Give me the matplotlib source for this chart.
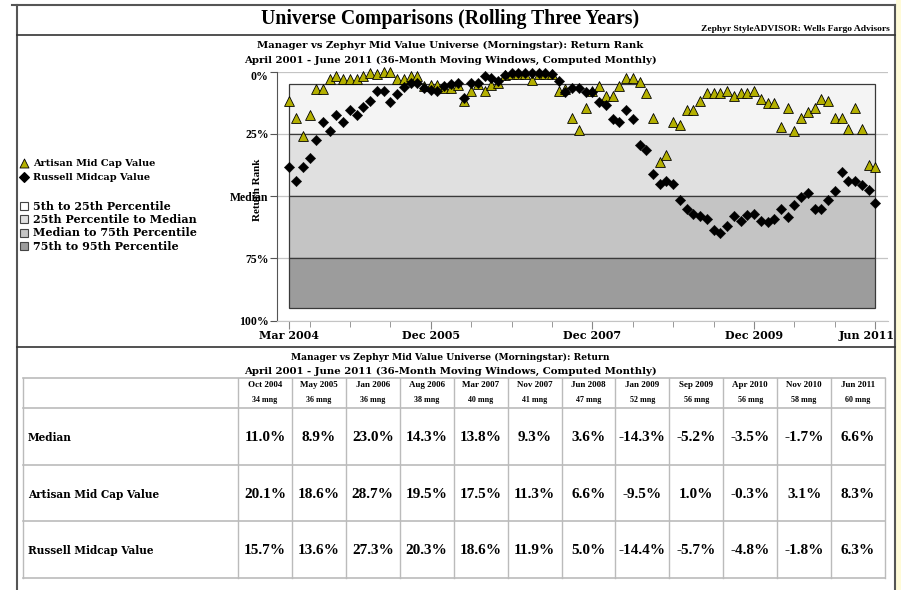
import numpy as np
import matplotlib
matplotlib.use('Agg')
import matplotlib.pyplot as plt
import matplotlib.transforms as mtransforms
from matplotlib.patches import Rectangle

plt.rcParams['font.family'] = ['Liberation Serif', 'DejaVu Serif']
plt.rcParams['font.weight'] = 'bold'
WIDE = ['DejaVu Serif']  # 字間の広い小さい文字用

W, H = 901, 590

# 月次ローリング窓 (Mar 2004 - Jun 2011)
months = np.arange(88)
artisan_rank = [11.7, 18.5, 26.0, 17.4, 7.0, 7.0, 3.2, 2.0, 3.0, 3.0, 3.0, 1.8,
                0.6, 1.2, 0.4, 0.4, 3.0, 3.0, 1.8, 1.8, 6.0, 5.4, 5.4, 6.8,
                6.5, 5.4, 12.0, 8.0, 5.0, 8.0, 5.3, 4.6, 1.5, 1.0, 1.0, 1.0,
                3.3, 1.0, 1.0, 1.0, 7.8, 7.0, 18.5, 23.3, 14.7, 8.0, 5.9, 9.8,
                9.8, 6.0, 2.8, 2.8, 4.1, 8.8, 18.5, 36.4, 33.7, 20.3, 21.3, 15.6,
                15.6, 11.7, 8.8, 8.8, 8.8, 7.7, 9.9, 8.8, 8.8, 7.7, 10.9, 12.5,
                12.5, 22.4, 14.7, 24.0, 18.5, 16.3, 14.7, 10.9, 11.8, 18.5, 18.5, 23.1,
                14.7, 23.1, 37.5, 38.5]
russell_rank = [38.4, 43.8, 38.4, 34.6, 27.6, 20.2, 23.9, 17.3, 20.2, 15.3, 17.3, 14.2,
                11.8, 7.7, 7.7, 12.4, 9.0, 6.1, 4.8, 4.8, 6.8, 7.5, 7.8, 6.0,
                5.2, 4.7, 10.6, 4.7, 4.7, 1.8, 2.6, 3.8, 1.6, 0.8, 0.8, 0.8,
                0.8, 0.8, 0.8, 1.2, 4.0, 8.4, 6.6, 6.6, 8.4, 8.4, 12.2, 13.4,
                19.0, 20.1, 15.3, 19.2, 29.3, 31.4, 41.1, 45.0, 43.9, 45.0, 51.4, 55.3,
                57.3, 58.0, 59.3, 63.8, 64.7, 61.8, 58.0, 60.0, 57.7, 57.0, 60.0, 60.4,
                59.0, 55.3, 58.4, 53.4, 50.3, 48.6, 55.3, 55.3, 51.7, 47.9, 40.2, 44.0,
                44.0, 45.6, 47.7, 52.6]

band_edges = [5, 25, 50, 75, 95]
band_colors = ['#f4f4f4', '#e0e0e0', '#c4c4c4', '#9c9c9c']
legend_box_colors = ['#ffffff', '#e0e0e0', '#c4c4c4', '#9c9c9c']
band_labels = ['5th to 25th Percentile', '25th Percentile to Median',
               'Median to 75th Percentile', '75th to 95th Percentile']

ytick_vals = [0, 25, 50, 75, 100]
ytick_labels = ['0%', '25%', 'Median', '75%', '100%']
xtick_pos = [0, 21, 45, 69, 87]
xtick_labels = ['Mar 2004', 'Dec 2005', 'Dec 2007', 'Dec 2009', 'Jun 2011']
xminor_pos = list(range(3, 88, 6))

# 表データ
col_dates = ['Oct 2004', 'May 2005', 'Jan 2006', 'Aug 2006', 'Mar 2007', 'Nov 2007',
             'Jun 2008', 'Jan 2009', 'Sep 2009', 'Apr 2010', 'Nov 2010', 'Jun 2011']
col_mng = [34, 36, 36, 38, 40, 41, 47, 52, 56, 56, 58, 60]
row_names = ['Median', 'Artisan Mid Cap Value', 'Russell Midcap Value']
median_ret = [11.0, 8.9, 23.0, 14.3, 13.8, 9.3, 3.6, -14.3, -5.2, -3.5, -1.7, 6.6]
artisan_ret = [20.1, 18.6, 28.7, 19.5, 17.5, 11.3, 6.6, -9.5, 1.0, -0.3, 3.1, 8.3]
russell_ret = [15.7, 13.6, 27.3, 20.3, 18.6, 11.9, 5.0, -14.4, -5.7, -4.8, -1.8, 6.3]

tri_color = '#b4b000'
frame_color = '#555555'
grid_color = '#c4c4c4'


def px_box(l, t, r, b):
    return [l / W, 1 - b / H, (r - l) / W, (b - t) / H]


fig = plt.figure(figsize=(W / 100, H / 100), dpi=100)

# 背景(ピクセル座標)
bg = fig.add_axes([0, 0, 1, 1])
bg.set_xlim(0, W)
bg.set_ylim(H, 0)
bg.axis('off')

bg.add_patch(Rectangle((896, 0), 5, H, facecolor='#fffbd8', edgecolor='none'))
# 外枠
bg.plot([12, 895], [5, 5], color=frame_color, lw=1.5)
bg.plot([17, 17], [5, H], color=frame_color, lw=1.5)
bg.plot([895, 895], [5, H], color=frame_color, lw=1.5)
bg.plot([17, 895], [35, 35], color='#333333', lw=1.2)
bg.plot([17, 895], [347, 347], color='#333333', lw=1.2)

bg.text(450, 19, 'Universe Comparisons (Rolling Three Years)', ha='center', va='center',
        fontsize=14.2)
bg.text(890, 29, 'Zephyr StyleADVISOR: Wells Fargo Advisors', ha='right', va='center',
        fontsize=6.8)
bg.text(450, 45, 'Manager vs Zephyr Mid Value Universe (Morningstar): Return Rank',
        ha='center', va='center', fontsize=7.3, family=WIDE)
bg.text(450, 60, 'April 2001 - June 2011 (36-Month Moving Windows, Computed Monthly)',
        ha='center', va='center', fontsize=7.3, family=WIDE)
bg.text(257, 190, 'Return Rank', rotation=90, ha='center', va='center', fontsize=8)

# 凡例
bg.scatter([24], [163], marker='^', s=42, c=tri_color, edgecolors='black', linewidths=0.6)
bg.text(33, 163, 'Artisan Mid Cap Value', va='center', fontsize=7.0, family=WIDE)
bg.scatter([24], [177], marker='D', s=24, c='black')
bg.text(33, 177.5, 'Russell Midcap Value', va='center', fontsize=7.0, family=WIDE)
for i, (lab, c) in enumerate(zip(band_labels, legend_box_colors)):
    yy = 206 + i * 13.4
    bg.add_patch(Rectangle((20, yy - 4), 8, 8, facecolor=c, edgecolor='#444444', lw=0.8))
    bg.text(33, yy, lab, va='center', fontsize=8.0, family=WIDE)

# 散布図
ax = fig.add_axes(px_box(277, 71.5, 888, 320.7))
ax.set_facecolor('none')
ax.set_xlim(-1.83, 88.89)
ax.set_ylim(100, 0)
for lo, hi, c in zip(band_edges[:-1], band_edges[1:], band_colors):
    ax.add_patch(Rectangle((months[0], lo), months[-1] - months[0], hi - lo,
                           facecolor=c, edgecolor='#3a3a3a', lw=0.9, zorder=1))
ax.scatter(months, artisan_rank, marker='^', s=50, c=tri_color, edgecolors='black',
           linewidths=0.6, zorder=3, clip_on=False)
ax.scatter(months, russell_rank, marker='D', s=28, c='black', edgecolors='black',
           linewidths=0.3, zorder=4, clip_on=False)

ax.set_yticks(ytick_vals)
ax.set_yticklabels(ytick_labels)
ax.yaxis.grid(True, color=grid_color, lw=0.9)
ax.set_axisbelow(True)
ax.set_xticks(xtick_pos)
ax.set_xticklabels(xtick_labels, family=WIDE)
ax.set_xticks(xminor_pos, minor=True)
ax.tick_params(axis='y', length=5, color=frame_color, labelsize=8.5, pad=1)
ax.tick_params(axis='x', which='major', length=6, color='#888888', labelsize=8, pad=1)
ax.tick_params(axis='x', which='minor', length=4, color='#888888')
ax.get_yticklabels()[0].set_va('top')
last = ax.get_xticklabels()[-1]
last.set_transform(last.get_transform() + mtransforms.ScaledTranslation(-9 / 100, 0, fig.dpi_scale_trans))
for s in ['top', 'right']:
    ax.spines[s].set_visible(False)
ax.spines['left'].set_color(frame_color)
ax.spines['bottom'].set_color(grid_color)

# 表
bg.text(450, 357, 'Manager vs Zephyr Mid Value Universe (Morningstar): Return',
        ha='center', va='center', fontsize=6.6, family=WIDE)
bg.text(450, 371, 'April 2001 - June 2011 (36-Month Moving Windows, Computed Monthly)',
        ha='center', va='center', fontsize=7.3, family=WIDE)

t_left, t_right = 23, 885
c_left = 238
c_w = (t_right - c_left) / len(col_dates)
row_lines = [378, 408, 465, 521, 578]
for yy in row_lines:
    bg.plot([t_left, t_right], [yy, yy], color='#bbbbbb', lw=1.2)
for k in range(len(col_dates) + 1):
    xx = c_left + k * c_w
    bg.plot([xx, xx], [row_lines[0], row_lines[-1]], color='#bbbbbb', lw=1.0)
bg.plot([t_left, t_left], [row_lines[0], row_lines[-1]], color='#bbbbbb', lw=1.0)

for k, (d, m) in enumerate(zip(col_dates, col_mng)):
    xc = c_left + (k + 0.5) * c_w
    bg.text(xc, 385, d, ha='center', va='center', fontsize=6.5)
    bg.text(xc, 400, f'{m} mng', ha='center', va='center', fontsize=5.8)

for r, (name, vals) in enumerate(zip(row_names, [median_ret, artisan_ret, russell_ret])):
    yc = (row_lines[r + 1] + row_lines[r + 2]) / 2 + 1
    bg.text(28, yc, name, va='center', fontsize=7.6, family=WIDE)
    for k, v in enumerate(vals):
        xc = c_left + (k + 0.5) * c_w
        bg.text(xc, yc, f'{v:.1f}%', ha='center', va='center', fontsize=11)

fig.savefig('out.png', dpi=100)
